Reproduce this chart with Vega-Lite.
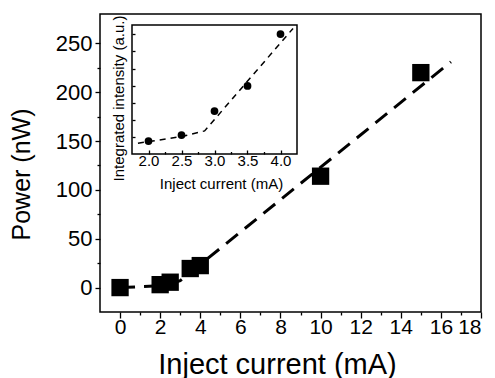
{
  "$schema": "https://vega.github.io/schema/vega-lite/v6.json",
  "width": 381,
  "height": 298,
  "autosize": {"type": "none"},
  "padding": {"left": 100, "top": 14, "right": 14, "bottom": 66},
  "background": "white",
  "config": {
    "view": {"stroke": "black", "strokeWidth": 1.5},
    "font": "Liberation Sans",
    "axis": {"grid": false, "domain": false, "tickColor": "black", "labelColor": "black", "titleColor": "black", "tickWidth": 1.3, "titleFontWeight": "normal", "labelFont": "Liberation Sans", "titleFont": "Liberation Sans"}
  },
  "datasets": {
    "main": [{"i": 0, "p": 0}, {"i": 2, "p": 3}, {"i": 2.5, "p": 5.5}, {"i": 3.5, "p": 19.5}, {"i": 4, "p": 22.5}, {"i": 10, "p": 114}, {"i": 15, "p": 220}],
    "fit": [{"i": 0, "p": 0}, {"i": 2.2, "p": 2}, {"i": 3, "p": 7}, {"i": 16.5, "p": 231}],
    "inset": [{"c": 2.0, "v": 0.76}, {"c": 2.5, "v": 1.11}, {"c": 3.0, "v": 2.51}, {"c": 3.5, "v": 3.98}, {"c": 4.0, "v": 7.02}],
    "insetfit": [{"c": 1.84, "v": 0.63}, {"c": 2.5, "v": 1.02}, {"c": 2.85, "v": 1.35}, {"c": 4.19, "v": 7.35}]
  },
  "layer": [
    {
      "encoding": {
        "x": {"field": "i", "type": "quantitative",
          "scale": {"domain": [-1, 18], "nice": false, "zero": false},
          "axis": {"orient": "bottom", "title": "Inject current (mA)", "values": [0,1,2,3,4,5,6,7,8,9,10,11,12,13,14,15,16,17,18],
            "tickSize": {"condition": {"test": "datum.value % 2 === 0", "value": 6}, "value": 3},
            "labelExpr": "datum.value % 2 === 0 ? datum.label : ''",
            "labelFontSize": 21, "labelPadding": -2, "titleFontSize": 29, "titleX": 177, "titleY": 38, "titleBaseline": "top"}},
        "y": {"field": "p", "type": "quantitative",
          "scale": {"domain": [-25, 280], "nice": false, "zero": false},
          "axis": {"orient": "left", "title": "Power (nW)", "values": [0,25,50,75,100,125,150,175,200,225,250],
            "tickSize": {"condition": {"test": "datum.value % 50 === 0", "value": 5}, "value": 3},
            "labelExpr": "datum.value % 50 === 0 ? datum.label : ''",
            "labelFontSize": 22, "labelPadding": 3, "titleFontSize": 25, "titleX": -66, "titleY": 160, "titleBaseline": "bottom"}}
      },
      "layer": [
        {"data": {"name": "fit"}, "mark": {"type": "line", "color": "black", "strokeWidth": 3, "strokeDash": [15, 9]}},
        {"data": {"name": "main"}, "mark": {"type": "point", "shape": "square", "filled": true, "color": "black", "size": 300, "opacity": 1}}
      ]
    },
    {
      "layer": [
        {"data": {"values": [{}]}, "mark": {"type": "rect", "fill": "white", "stroke": "black", "strokeWidth": 1.5},
          "encoding": {
            "x": {"datum": 1.75, "type": "quantitative",
              "scale": {"domain": [1.75, 4.25], "range": [32, 197], "nice": false, "zero": false},
              "axis": {"orient": "bottom", "offset": -158, "values": [2, 2.25, 2.5, 2.75, 3, 3.25, 3.5, 3.75, 4], "domain": false, "zindex": 1,
                "tickSize": {"condition": {"test": "(datum.value*2) % 1 === 0", "value": -4}, "value": -2.5},
                "labelExpr": "(datum.value*2) % 1 === 0 ? format(datum.value, '.1f') : ''",
                "labelFontSize": 15, "labelPadding": 3, "title": "Inject current (mA)", "titleFontSize": 15, "titleX": 121, "titleY": 22, "titleBaseline": "top"}},
            "x2": {"datum": 4.25},
            "y": {"datum": 0, "type": "quantitative",
              "scale": {"domain": [0, 7.55], "range": [140, 11], "nice": false, "zero": false},
              "axis": {"orient": "left", "offset": -32, "values": [1, 2, 3, 4, 5, 6, 7], "domain": false, "zindex": 1, "tickSize": -3, "labels": false,
                "title": "Integrated intensity (a.u.)", "titleFontSize": 15, "titleX": -6, "titleY": 84, "titleBaseline": "bottom"}},
            "y2": {"datum": 7.55}
          }},
        {"data": {"name": "insetfit"}, "mark": {"type": "line", "color": "black", "strokeWidth": 1.5, "strokeDash": [6, 5]},
          "encoding": {
            "x": {"field": "c", "type": "quantitative",
              "scale": {"domain": [1.75, 4.25], "range": [32, 197], "nice": false, "zero": false},
              "axis": {"orient": "bottom", "offset": -158, "values": [2, 2.25, 2.5, 2.75, 3, 3.25, 3.5, 3.75, 4], "domain": false, "zindex": 1,
                "tickSize": {"condition": {"test": "(datum.value*2) % 1 === 0", "value": -4}, "value": -2.5},
                "labelExpr": "(datum.value*2) % 1 === 0 ? format(datum.value, '.1f') : ''",
                "labelFontSize": 15, "labelPadding": 3, "title": "Inject current (mA)", "titleFontSize": 15, "titleX": 121, "titleY": 22, "titleBaseline": "top"}},
            "y": {"field": "v", "type": "quantitative",
              "scale": {"domain": [0, 7.55], "range": [140, 11], "nice": false, "zero": false},
              "axis": {"orient": "left", "offset": -32, "values": [1, 2, 3, 4, 5, 6, 7], "domain": false, "zindex": 1, "tickSize": -3, "labels": false,
                "title": "Integrated intensity (a.u.)", "titleFontSize": 15, "titleX": -6, "titleY": 84, "titleBaseline": "bottom"}}
          }},
        {"data": {"name": "inset"}, "mark": {"type": "point", "shape": "circle", "filled": true, "color": "black", "size": 60, "opacity": 1},
          "encoding": {
            "x": {"field": "c", "type": "quantitative",
              "scale": {"domain": [1.75, 4.25], "range": [32, 197], "nice": false, "zero": false},
              "axis": {"orient": "bottom", "offset": -158, "values": [2, 2.25, 2.5, 2.75, 3, 3.25, 3.5, 3.75, 4], "domain": false, "zindex": 1,
                "tickSize": {"condition": {"test": "(datum.value*2) % 1 === 0", "value": -4}, "value": -2.5},
                "labelExpr": "(datum.value*2) % 1 === 0 ? format(datum.value, '.1f') : ''",
                "labelFontSize": 15, "labelPadding": 3, "title": "Inject current (mA)", "titleFontSize": 15, "titleX": 121, "titleY": 22, "titleBaseline": "top"}},
            "y": {"field": "v", "type": "quantitative",
              "scale": {"domain": [0, 7.55], "range": [140, 11], "nice": false, "zero": false},
              "axis": {"orient": "left", "offset": -32, "values": [1, 2, 3, 4, 5, 6, 7], "domain": false, "zindex": 1, "tickSize": -3, "labels": false,
                "title": "Integrated intensity (a.u.)", "titleFontSize": 15, "titleX": -6, "titleY": 84, "titleBaseline": "bottom"}}
          }}
      ]
    }
  ],
  "resolve": {"scale": {"x": "independent", "y": "independent"}, "axis": {"x": "independent", "y": "independent"}}
}
